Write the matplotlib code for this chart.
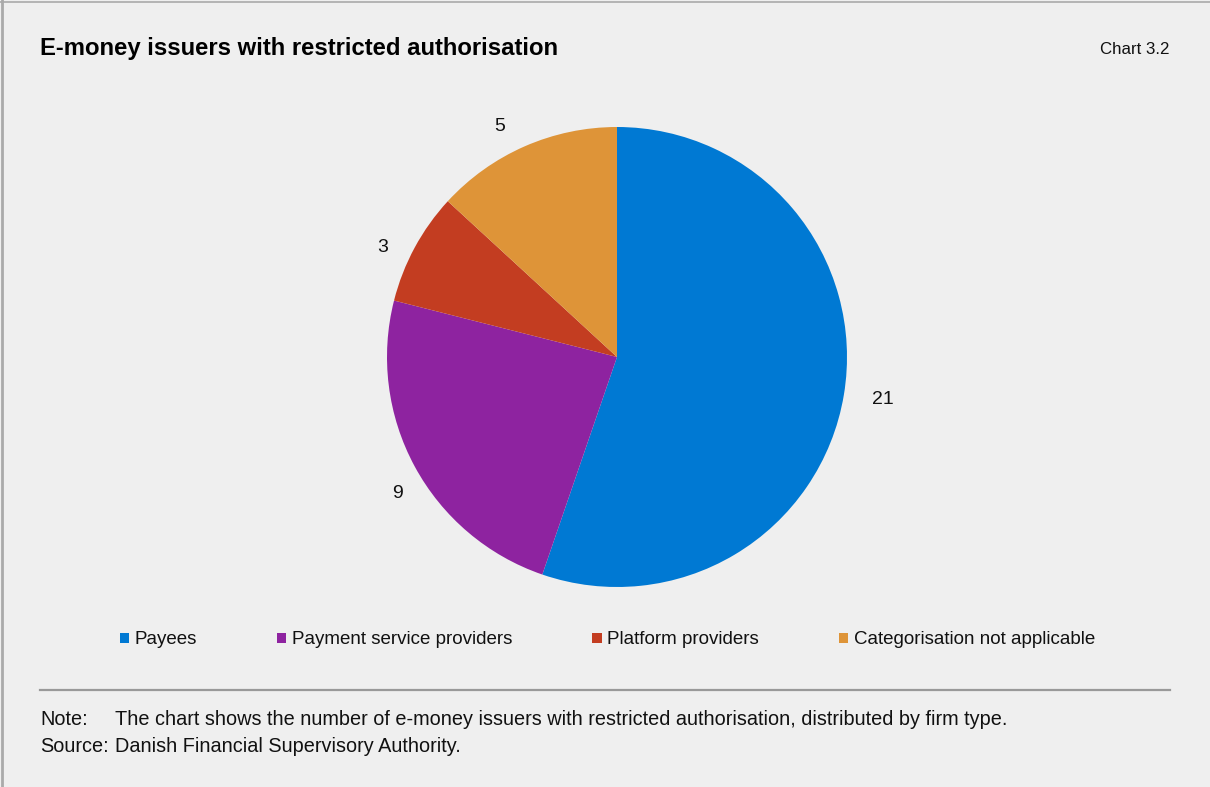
import numpy as np
import matplotlib.pyplot as plt
from matplotlib.lines import Line2D
from matplotlib.patches import Patch

categories = ["Payees", "Payment service providers", "Platform providers", "Categorisation not applicable"]
counts = [21, 9, 3, 5]
colors = ["#0079D3", "#8E23A0", "#C33D21", "#DE9438"]

title = "E-money issuers with restricted authorisation"
chart_no = "Chart 3.2"
note = "The chart shows the number of e-money issuers with restricted authorisation, distributed by firm type."
source = "Danish Financial Supervisory Authority."

W, H = 1210, 787
bg = "#EFEFEF"
txt = "#111111"
plt.rcParams["font.family"] = ["Liberation Sans", "DejaVu Sans"]

fig = plt.figure(figsize=(W / 100, H / 100), dpi=100, facecolor=bg)

# pie: centre (617, 357) px, radius 230 px
cx, cy, r = 617, 357, 230
ax = fig.add_axes([(cx - r) / W, (H - cy - r) / H, 2 * r / W, 2 * r / H])
ax.set_facecolor(bg)
wedges, _ = ax.pie(
    counts,
    colors=colors,
    startangle=90,
    counterclock=False,
    wedgeprops={"linewidth": 0},
)
ax.set_xlim(-1, 1)
ax.set_ylim(-1, 1)
ax.axis("off")

# value labels just outside each wedge (Excel-ish "outside end" placement)
for w, c in zip(wedges, counts):
    mid = 0.5 * (w.theta1 + w.theta2)
    right = np.cos(np.radians(mid)) > 0
    a = np.radians(mid if right else mid + 3.4)
    ax.text(1.125 * np.cos(a), 1.125 * np.sin(a), str(c), fontsize=14, color=txt,
            ha="left" if right else "center", va="center")

fig.text(40 / W, 1 - 55 / H, title, fontsize=17.2, fontweight="bold", va="baseline", ha="left", color="#000000")
fig.text(1170 / W, 1 - 54 / H, chart_no, fontsize=12.2, va="baseline", ha="right", color=txt)

handles = [Patch(facecolor=c, edgecolor="none") for c in colors]
fig.legend(
    handles,
    categories,
    loc="center left",
    bbox_to_anchor=(120 / W, 1 - 640 / H),
    ncol=4,
    frameon=False,
    fontsize=13.5,
    handlelength=0.5,
    handleheight=0.5,
    handletextpad=0.3,
    columnspacing=4.25,
    borderpad=0,
    borderaxespad=0,
    labelcolor=txt,
)

fig.add_artist(Line2D([40 / W, 1170 / W], [1 - 690 / H] * 2, color="#999999", linewidth=1.6))
fig.text(40 / W, 1 - 725 / H, "Note:", fontsize=14.3, va="baseline", ha="left", color=txt)
fig.text(115 / W, 1 - 725 / H, note, fontsize=14.3, va="baseline", ha="left", color=txt)
fig.text(40 / W, 1 - 752 / H, "Source:", fontsize=14.3, va="baseline", ha="left", color=txt)
fig.text(115 / W, 1 - 752 / H, source, fontsize=14.3, va="baseline", ha="left", color=txt)

# frame lines on left and top edges
fig.add_artist(Line2D([1.5 / W, 1.5 / W], [0, 1], color="#AAAAAA", linewidth=2))
fig.add_artist(Line2D([0, 1], [1 - 1.5 / H] * 2, color="#AAAAAA", linewidth=1.2))

fig.savefig("out.png", dpi=100, facecolor=bg)
